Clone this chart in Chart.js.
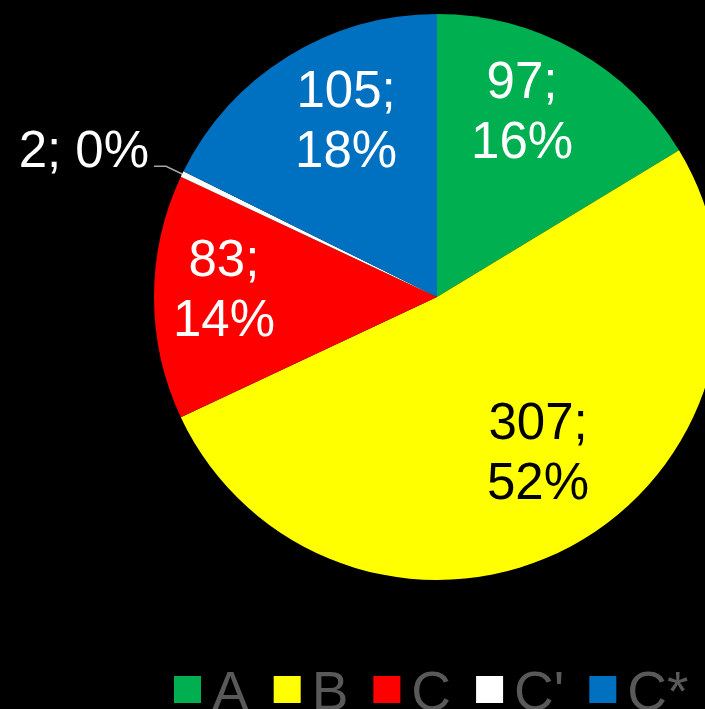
<!DOCTYPE html>
<html>
<head>
<meta charset="utf-8">
<script src="https://cdn.jsdelivr.net/npm/chart.js@4/dist/chart.umd.min.js"></script>
<style>
  html, body { margin: 0; padding: 0; background: #000; overflow: hidden; }
  canvas { display: block; background: #000; }
</style>
</head>
<body>
<canvas id="pieChart" width="740" height="709"></canvas>
<script>
const categories = ['A', 'B', 'C', "C'", 'C*'];
const values = [97, 307, 83, 2, 105];
const sliceColors = ['#00B050', '#FFFF00', '#FF0000', '#FFFFFF', '#0070C0'];
const labelColors = ['#FFFFFF', '#000000', '#FFFFFF', '#FFFFFF', '#FFFFFF'];

// placement of the inside labels (fraction of radius, angle nudge in degrees)
const labelRadius = [0.714, 0.663, 0.753, 0, 0.693];
const labelNudge = [-4.5, -4.4, 1.3, 0, 4.2];
const outsideLabel = [false, false, false, true, false];

const total = values.reduce((a, b) => a + b, 0);
const fontFamily = '"Liberation Sans", Arial, sans-serif';

// value; percent labels
const dataLabels = {
  id: 'dataLabels',
  afterDatasetsDraw(chart) {
    const ctx = chart.ctx;
    const arcs = chart.getDatasetMeta(0).data;
    ctx.save();
    ctx.font = '51px ' + fontFamily;
    arcs.forEach((arc, i) => {
      const pct = Math.round(values[i] / total * 100);
      const mid = (arc.startAngle + arc.endAngle) / 2;
      const r = arc.outerRadius;
      ctx.fillStyle = labelColors[i];
      if (outsideLabel[i]) {
        const ex = arc.x + Math.cos(mid) * r;
        const ey = arc.y + Math.sin(mid) * r;
        const kx = arc.x + Math.cos(mid) * r * 1.063;
        const ky = arc.y + Math.sin(mid) * r * 1.063;
        ctx.strokeStyle = '#A6A6A6';
        ctx.lineWidth = 1.5;
        ctx.beginPath();
        ctx.moveTo(ex, ey);
        ctx.lineTo(kx, ky);
        ctx.lineTo(kx - 12, ky);
        ctx.stroke();
        ctx.textAlign = 'right';
        ctx.textBaseline = 'alphabetic';
        ctx.fillText(values[i] + '; ' + pct + '%', kx - 17, ky + 1);
      } else {
        const a = mid + labelNudge[i] * Math.PI / 180;
        const cx = arc.x + Math.cos(a) * r * labelRadius[i];
        const cy = arc.y + Math.sin(a) * r * labelRadius[i];
        ctx.textAlign = 'center';
        ctx.textBaseline = 'middle';
        ctx.fillText(values[i] + ';', cx, cy - 30);
        ctx.fillText(pct + '%', cx, cy + 30);
      }
    });
    ctx.restore();
  }
};

// legend row under the pie
const bottomLegend = {
  id: 'bottomLegend',
  afterDraw(chart) {
    const ctx = chart.ctx;
    const box = 27;
    ctx.save();
    ctx.font = '55px ' + fontFamily;
    ctx.textAlign = 'left';
    ctx.textBaseline = 'alphabetic';
    let x = chart.chartArea.left + 20;
    const boxTop = 676;
    categories.forEach((name, i) => {
      ctx.fillStyle = sliceColors[i];
      ctx.fillRect(x, boxTop, box, box);
      x += box + 11;
      ctx.fillStyle = '#595959';
      ctx.fillText(name, x, 710);
      x += ctx.measureText(name).width + 25;
    });
    ctx.restore();
  }
};

const ctx = document.getElementById('pieChart').getContext('2d');

new Chart(ctx, {
  type: 'pie',
  data: {
    labels: categories,
    datasets: [{
      data: values,
      backgroundColor: sliceColors,
      borderWidth: 0
    }]
  },
  options: {
    responsive: false,
    animation: false,
    devicePixelRatio: 1,
    layout: {
      padding: { left: 154, top: 14, right: 20, bottom: 129 }
    },
    plugins: {
      legend: { display: false },
      tooltip: { enabled: false }
    }
  },
  plugins: [dataLabels, bottomLegend]
});
</script>
</body>
</html>
